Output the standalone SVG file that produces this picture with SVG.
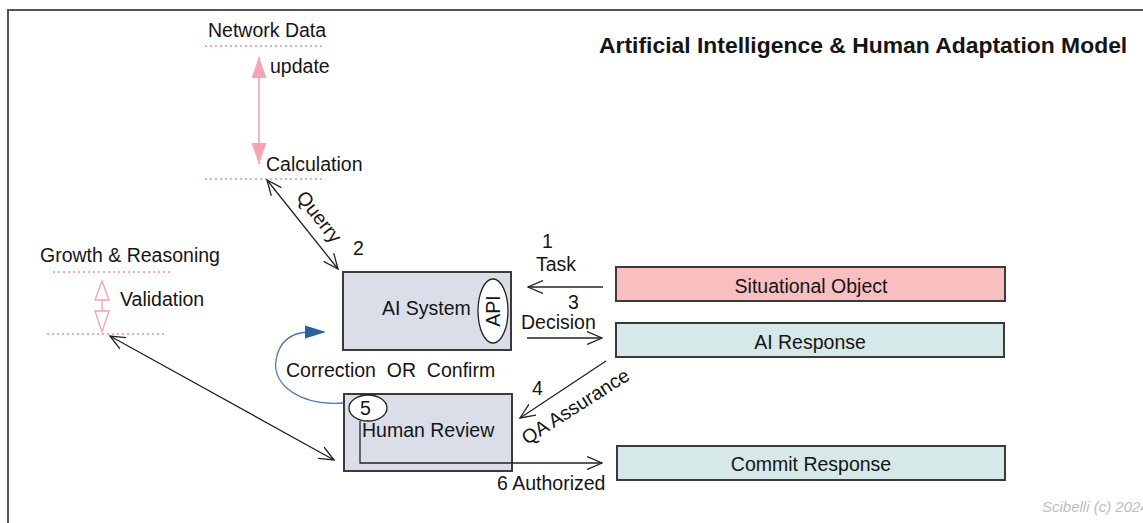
<svg xmlns="http://www.w3.org/2000/svg" width="1143" height="523" viewBox="0 0 1143 523">
<defs>
<style>
text{font-family:"Liberation Sans",Arial,Helvetica,sans-serif;fill:#151515;font-size:19.5px}
.title{font-weight:bold;font-size:22.9px}
.mid{text-anchor:middle}
.box{stroke:#3a3a3a;stroke-width:2}
.sys{fill:#d9dee9}
.pink{fill:#f9bfc0}
.teal{fill:#d7e8e8}
.dot{stroke:#f18aa5;stroke-width:1.3;stroke-dasharray:2 3;fill:none}
.conn{stroke:#222;stroke-width:1.3;fill:none}
.copy{font-style:italic;font-size:15px;fill:#bdbdbd}
</style>
<marker id="open" viewBox="0 0 16 14" refX="15" refY="7" markerWidth="16" markerHeight="14" markerUnits="userSpaceOnUse" orient="auto-start-reverse">
<path d="M0,0.5 L15,7 L0,13.5" fill="none" stroke="#222" stroke-width="1.3"/>
</marker>
<marker id="pinkhead" viewBox="0 0 21 15" refX="21" refY="7.5" markerWidth="21" markerHeight="15" markerUnits="userSpaceOnUse" orient="auto-start-reverse">
<path d="M0,0 L21,7.5 L0,15 Z" fill="#f6a3b6"/>
</marker>
</defs>
<rect x="8" y="10" width="1160" height="540" fill="#fff" stroke="#555" stroke-width="2"/>

<g id="title"><text class="title" x="599" y="53">Artificial Intelligence &amp; Human Adaptation Model</text></g>

<g id="network-data">
<text x="208" y="37">Network Data</text>
<line class="dot" x1="205" y1="46" x2="322" y2="46"/>
</g>
<g id="calculation">
<text x="266" y="171">Calculation</text>
<line class="dot" x1="205" y1="179" x2="322" y2="179"/>
</g>
<g id="growth-reasoning">
<text x="40" y="262">Growth &amp; Reasoning</text>
<line class="dot" x1="53" y1="272" x2="170" y2="272"/>
<line class="dot" x1="47" y1="334" x2="164" y2="334"/>
<polygon points="102,281 95,300 109,300" fill="#fff" stroke="#f4a0b4" stroke-width="1.3"/>
<line x1="102" y1="300" x2="102" y2="311" stroke="#f4a0b4" stroke-width="1.3"/>
<polygon points="95,311 109,311 102,332" fill="#fff" stroke="#f4a0b4" stroke-width="1.3"/>
<text x="120" y="306">Validation</text>
</g>

<g id="ai-system">
<rect class="box sys" x="343" y="272" width="168" height="78"/>
<text x="382" y="315">AI System</text>
<ellipse cx="493" cy="311" rx="15" ry="32" fill="#fff" stroke="#222" stroke-width="1.3"/>
<text class="mid" transform="translate(500,311) rotate(-90)">API</text>
</g>

<g id="human-review">
<rect class="box sys" x="344" y="394" width="168" height="77"/>
<text x="362" y="437">Human Review</text>
<ellipse cx="368" cy="408" rx="19" ry="13" fill="#fff" stroke="#222" stroke-width="1.3"/>
<text x="360" y="415">5</text>
</g>

<g id="situational-object">
<rect class="box pink" x="616" y="267" width="389" height="34"/>
<text class="mid" x="811" y="293">Situational Object</text>
</g>
<g id="ai-response">
<rect class="box teal" x="616" y="323" width="388" height="34"/>
<text class="mid" x="810" y="349">AI Response</text>
</g>
<g id="commit-response">
<rect class="box teal" x="617" y="446" width="388" height="34"/>
<text class="mid" x="811" y="471">Commit Response</text>
</g>

<g id="connectors">
<line x1="259" y1="57" x2="259" y2="164" stroke="#f6a3b6" stroke-width="1.6" marker-start="url(#pinkhead)" marker-end="url(#pinkhead)"/>
<text x="270" y="73">update</text>

<line class="conn" x1="267" y1="180" x2="338" y2="269" marker-start="url(#open)" marker-end="url(#open)"/>
<text class="mid" transform="translate(314,221) rotate(51.7)">Querry</text>
<text x="353" y="255">2</text>

<line class="conn" x1="110" y1="336" x2="334" y2="460" marker-start="url(#open)" marker-end="url(#open)"/>

<line class="conn" x1="603" y1="287" x2="528" y2="287" marker-end="url(#open)"/>
<text x="542" y="248">1</text>
<text x="536" y="271">Task</text>

<line class="conn" x1="527" y1="338" x2="602" y2="338" marker-end="url(#open)"/>
<text x="568" y="309">3</text>
<text x="521" y="329">Decision</text>

<line class="conn" x1="606" y1="361" x2="520" y2="418" marker-end="url(#open)"/>
<text x="532" y="395">4</text>
<text class="mid" transform="translate(579,412) rotate(-32.5)">QA Assurance</text>

<path class="conn" d="M360,421 L360,463 L602,463" marker-end="url(#open)"/>
<text x="497" y="490">6 Authorized</text>

<path d="M343,403 C300,406 272,385 276,360 C279,342 290,333 308,332" fill="none" stroke="#4a79b3" stroke-width="1.3"/>
<polygon points="305,325.5 326,332 305,338.5" fill="#2f5f9e"/>
<text x="286" y="377" xml:space="preserve">Correction  OR  Confirm</text>
</g>

<text class="copy" x="1042" y="512">Scibelli (c) 2024</text>
</svg>
